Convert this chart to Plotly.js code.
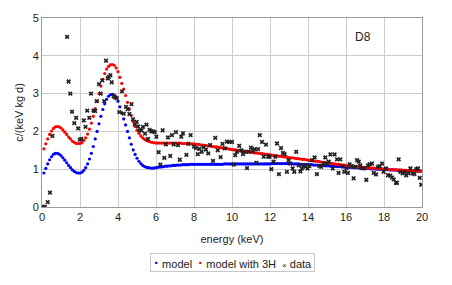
<!DOCTYPE html>
<html>
<head>
<meta charset="utf-8">
<script src="https://cdn.plot.ly/plotly-3.0.1.min.js"></script>
<style>html,body{margin:0;padding:0;background:#fff}#chart{width:452px;height:285px}</style>
</head>
<body>
<div id="chart"></div>
<script>
// model energy grid (keV)
const modelEnergy = [
0.1,0.2,0.3,0.4,0.5,0.6,0.7,0.8,0.9,1.0,
1.1,1.2,1.3,1.4,1.5,1.6,1.7,1.8,1.9,2.0,
2.1,2.2,2.3,2.4,2.5,2.6,2.7,2.8,2.9,3.0,
3.1,3.2,3.3,3.4,3.5,3.6,3.7,3.8,3.9,4.0,
4.1,4.2,4.3,4.4,4.5,4.6,4.7,4.8,4.9,5.0,
5.1,5.2,5.3,5.4,5.5,5.6,5.7,5.8,5.9,6.0,
6.1,6.2,6.3,6.4,6.5,6.6,6.7,6.8,6.9,7.0,
7.1,7.2,7.3,7.4,7.5,7.6,7.7,7.8,7.9,8.0,
8.1,8.2,8.3,8.4,8.5,8.6,8.7,8.8,8.9,9.0,
9.1,9.2,9.3,9.4,9.5,9.6,9.7,9.8,9.9,10.0,
10.1,10.2,10.3,10.4,10.5,10.6,10.7,10.8,10.9,11.0,
11.1,11.2,11.3,11.4,11.5,11.6,11.7,11.8,11.9,12.0,
12.1,12.2,12.3,12.4,12.5,12.6,12.7,12.8,12.9,13.0,
13.1,13.2,13.3,13.4,13.5,13.6,13.7,13.8,13.9,14.0,
14.1,14.2,14.3,14.4,14.5,14.6,14.7,14.8,14.9,15.0,
15.1,15.2,15.3,15.4,15.5,15.6,15.7,15.8,15.9,16.0,
16.1,16.2,16.3,16.4,16.5,16.6,16.7,16.8,16.9,17.0,
17.1,17.2,17.3,17.4,17.5,17.6,17.7,17.8,17.9,18.0,
18.1,18.2,18.3,18.4,18.5,18.6,18.7,18.8,18.9,19.0,
19.1,19.2,19.3,19.4,19.5,19.6,19.7,19.8,19.9,20.0];

// "model" (blue)
const modelRate = [
0.90,1.02,1.14,1.25,1.33,1.39,1.42,1.42,1.40,1.36,
1.30,1.24,1.17,1.10,1.04,0.98,0.94,0.91,0.90,0.90,
0.92,0.97,1.04,1.14,1.27,1.42,1.60,1.80,2.00,2.20,
2.40,2.58,2.73,2.85,2.93,2.97,2.98,2.96,2.90,2.80,
2.65,2.49,2.33,2.17,2.00,1.83,1.66,1.51,1.39,1.29,
1.21,1.15,1.10,1.07,1.05,1.04,1.03,1.03,1.03,1.04,
1.05,1.06,1.06,1.07,1.08,1.08,1.09,1.09,1.10,1.10,
1.11,1.11,1.11,1.12,1.12,1.12,1.12,1.13,1.13,1.13,
1.13,1.13,1.13,1.13,1.13,1.13,1.13,1.13,1.13,1.13,
1.13,1.13,1.13,1.13,1.13,1.14,1.14,1.14,1.14,1.14,
1.14,1.14,1.14,1.14,1.14,1.14,1.14,1.14,1.14,1.14,
1.14,1.14,1.14,1.14,1.14,1.14,1.14,1.14,1.14,1.14,
1.15,1.15,1.15,1.15,1.15,1.15,1.15,1.15,1.15,1.15,
1.15,1.14,1.14,1.14,1.14,1.13,1.13,1.13,1.13,1.12,
1.12,1.12,1.11,1.11,1.11,1.10,1.10,1.10,1.09,1.09,
1.09,1.08,1.08,1.08,1.07,1.07,1.07,1.06,1.06,1.06,
1.05,1.05,1.05,1.04,1.04,1.04,1.03,1.03,1.03,1.02,
1.02,1.02,1.01,1.01,1.01,1.00,1.00,1.00,0.99,0.99,
0.99,0.99,0.98,0.98,0.98,0.98,0.97,0.97,0.97,0.97,
0.97,0.96,0.96,0.96,0.96,0.96,0.95,0.95,0.95,0.95];

// "model with 3H" (red)
const modelWith3H = [
1.54,1.67,1.80,1.92,2.01,2.08,2.12,2.13,2.12,2.09,
2.04,1.98,1.92,1.85,1.80,1.74,1.71,1.68,1.68,1.68,
1.70,1.76,1.83,1.93,2.06,2.22,2.40,2.60,2.80,3.00,
3.20,3.38,3.53,3.65,3.72,3.76,3.77,3.75,3.68,3.58,
3.43,3.27,3.12,2.95,2.77,2.59,2.42,2.26,2.13,2.03,
1.95,1.88,1.83,1.79,1.76,1.74,1.72,1.71,1.70,1.69,
1.69,1.69,1.69,1.69,1.69,1.69,1.69,1.69,1.69,1.69,
1.69,1.69,1.69,1.68,1.68,1.68,1.68,1.67,1.67,1.67,
1.66,1.66,1.65,1.64,1.64,1.63,1.62,1.62,1.61,1.60,
1.59,1.59,1.58,1.57,1.56,1.56,1.55,1.54,1.53,1.52,
1.51,1.51,1.50,1.49,1.48,1.48,1.47,1.46,1.46,1.45,
1.44,1.43,1.43,1.42,1.41,1.41,1.40,1.39,1.39,1.38,
1.37,1.36,1.36,1.35,1.34,1.34,1.33,1.32,1.32,1.31,
1.30,1.30,1.29,1.28,1.28,1.27,1.26,1.26,1.25,1.24,
1.23,1.23,1.22,1.21,1.21,1.20,1.19,1.18,1.18,1.17,
1.16,1.16,1.15,1.14,1.13,1.13,1.12,1.11,1.11,1.10,
1.09,1.09,1.08,1.08,1.07,1.07,1.06,1.06,1.05,1.05,
1.04,1.04,1.03,1.03,1.03,1.02,1.02,1.01,1.01,1.00,
1.00,1.00,0.99,0.99,0.99,0.98,0.98,0.98,0.98,0.97,
0.97,0.97,0.97,0.96,0.96,0.96,0.96,0.95,0.95,0.95];

// measured data
const dataEnergy = [
0.08,0.15,0.3,0.42,0.55,1.32,1.4,1.49,1.58,1.7,1.8,1.9,1.99,2.07,2.2,2.29,2.38,2.49,2.58,2.71,
2.8,2.88,3.0,3.09,3.17,3.28,3.37,3.46,3.52,3.6,3.67,3.77,3.85,3.93,4.07,4.21,4.3,4.42,4.51,4.6,
4.71,4.79,4.88,4.98,5.05,5.14,5.24,5.31,5.42,5.5,5.58,5.66,5.75,5.84,5.93,6.02,6.14,6.23,6.35,6.44,
6.52,6.63,6.75,6.84,6.93,7.05,7.16,7.25,7.33,7.42,7.6,7.7,7.82,8.0,8.1,8.2,8.28,8.4,8.5,8.63,
8.75,8.85,9.0,9.12,9.25,9.4,9.5,9.62,9.73,9.85,10.0,10.09,10.17,10.26,10.38,10.49,10.58,10.66,10.79,10.88,
11.0,11.1,11.19,11.28,11.37,11.46,11.58,11.67,11.79,11.9,11.98,12.07,12.19,12.28,12.37,12.47,12.58,12.68,12.77,12.89,
12.98,13.07,13.19,13.28,13.38,13.51,13.6,13.68,13.77,13.86,13.98,14.07,14.21,14.35,14.47,14.6,14.7,14.82,14.91,15.0,
15.09,15.18,15.3,15.4,15.53,15.61,15.7,15.82,15.91,16.02,16.1,16.19,16.3,16.4,16.49,16.58,16.67,16.75,16.84,16.96,
17.07,17.16,17.25,17.37,17.46,17.58,17.68,17.77,17.9,17.98,18.1,18.21,18.33,18.42,18.51,18.63,18.68,18.77,18.86,18.98,
19.09,19.17,19.3,19.39,19.51,19.6,19.7,19.79,19.88,19.96];
const dataRate = [
0.0,0.0,0.13,0.38,1.88,4.5,3.32,3.0,2.52,2.22,2.36,2.08,1.78,1.8,2.29,2.12,2.55,2.36,3.0,2.55,
2.54,2.8,3.25,3.0,3.35,2.8,3.87,3.4,3.44,3.49,3.3,2.93,2.9,2.88,2.51,3.06,2.47,2.65,2.59,2.46,
2.72,2.32,2.19,2.25,2.13,2.03,2.03,2.12,1.94,2.18,1.8,2.04,2.0,2.0,1.98,1.86,1.45,1.12,2.03,1.3,
1.66,1.84,1.35,1.9,1.66,1.98,1.64,1.25,1.86,1.95,1.38,1.67,1.9,1.6,1.56,1.4,1.54,1.46,1.58,1.52,
1.42,1.64,1.22,1.83,1.5,1.32,1.67,1.55,1.73,1.72,1.72,1.12,1.37,1.46,1.62,1.5,1.4,1.46,1.03,1.46,
1.57,1.48,1.53,1.17,1.53,1.9,1.72,1.33,1.65,1.33,1.33,1.0,1.2,1.33,1.68,0.87,1.56,1.43,1.4,0.93,
1.24,1.15,1.02,0.93,1.46,1.1,0.94,1.02,1.1,1.06,1.02,1.08,1.24,1.31,0.87,1.08,1.06,1.15,1.31,1.15,
1.2,1.39,1.02,1.39,1.26,0.9,1.26,1.08,0.93,1.03,0.9,1.13,1.08,0.76,1.06,1.24,1.2,1.1,1.03,1.02,
0.72,1.1,1.13,1.15,0.9,0.86,1.06,1.08,1.15,0.93,1.02,0.84,0.83,0.78,0.73,0.64,0.64,1.26,0.93,0.89,
0.93,0.84,0.89,1.02,0.89,0.87,1.0,1.02,0.77,0.59];

const xTicks = [0,2,4,6,8,10,12,14,16,18,20];
const yTicks = [0,1,2,3,4,5];
const seriesNames = ['model', 'model with 3H', 'data'];
const seriesColors = ['#0000ff', '#ff0000', '#111111'];

const FONT = 'Liberation Sans, Arial, sans-serif';

const traces = [
  {x: modelEnergy, y: modelRate, name: seriesNames[0], type: 'scatter', mode: 'markers',
   marker: {color: seriesColors[0], size: 3.2, line: {width: 0}}},
  {x: modelEnergy, y: modelWith3H, name: seriesNames[1], type: 'scatter', mode: 'markers',
   marker: {color: seriesColors[1], size: 3.2, line: {width: 0}}},
  {x: dataEnergy, y: dataRate, name: seriesNames[2], type: 'scatter', mode: 'markers',
   marker: {color: '#222222', symbol: 'x', size: 4.2, line: {width: 0}}}
];

// compact legend as a bordered text annotation (Excel style)
const NB = '\u00a0';
const legendText =
  NB + '<span style="color:' + seriesColors[0] + ';font-size:15px"><b>·</b></span>' + NB + seriesNames[0] + NB + NB +
  '<span style="color:' + seriesColors[1] + ';font-size:15px"><b>·</b></span>' + NB + seriesNames[1] + NB + NB +
  '<span style="color:' + seriesColors[2] + ';font-size:8px">×</span>' + NB + seriesNames[2] + NB;

const layout = {
  width: 452, height: 285,
  margin: {l: 42, r: 30, t: 18, b: 78, autoexpand: false},
  paper_bgcolor: '#ffffff', plot_bgcolor: '#ffffff',
  font: {family: FONT, size: 11, color: '#222'},
  showlegend: false,
  xaxis: {range: [0, 20], tickvals: xTicks, ticktext: xTicks.map(String),
          showgrid: true, gridcolor: '#cccccc', gridwidth: 1, zeroline: false,
          showline: true, mirror: true, linecolor: '#999999', linewidth: 1,
          ticks: '', tickfont: {family: FONT, size: 11, color: '#222'},
          title: {text: 'energy (keV)', font: {family: FONT, size: 11, color: '#222'}, standoff: 13}},
  yaxis: {range: [0, 5], tickvals: yTicks, ticktext: yTicks.map(String),
          showgrid: true, gridcolor: '#cccccc', gridwidth: 1, zeroline: false,
          showline: true, mirror: true, linecolor: '#999999', linewidth: 1,
          ticks: '', tickfont: {family: FONT, size: 11, color: '#222'},
          title: {text: 'c/(keV kg d)', font: {family: FONT, size: 11, color: '#222'}, standoff: 6}},
  annotations: [
    {text: 'D8', xref: 'paper', yref: 'paper', x: 0.845, y: 0.9, xanchor: 'center', yanchor: 'middle',
     showarrow: false, font: {family: FONT, size: 12, color: '#222'}},
    {text: legendText, xref: 'paper', yref: 'paper', x: 0.5, y: -0.245, xanchor: 'center', yanchor: 'top',
     showarrow: false, bordercolor: '#c8c8c8', borderwidth: 1, borderpad: 0, bgcolor: '#ffffff',
     font: {family: FONT, size: 11, color: '#222'}}
  ]
};

Plotly.newPlot('chart', traces, layout, {displayModeBar: false, staticPlot: true});
</script>
</body>
</html>
